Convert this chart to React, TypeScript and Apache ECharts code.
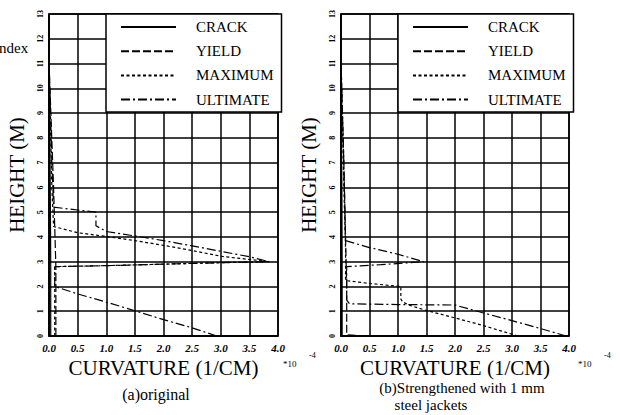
import React, { useEffect, useRef } from "react";
import * as echarts from "echarts";

const xTickLabels = ["0.0", "0.5", "1.0", "1.5", "2.0", "2.5", "3.0", "3.5", "4.0"];
const yTickLabels = ["0", "1", "2", "3", "4", "5", "6", "7", "8", "9", "10", "11", "12", "13"];
const seriesNames = ["CRACK", "YIELD", "MAXIMUM", "ULTIMATE"];

// Panel (a) original: [curvature (1e-4 1/cm), height (m)]
const crackA = [[0.03, 0], [0.03, 2.9], [0.025, 5], [0.015, 8], [0, 11.1]];
const yieldA = [[0.12, 0], [0.12, 2.8], [0.1, 4.4], [0.08, 6], [0.04, 8.5], [0, 11.1]];
const maximumA = [[0.1, 0], [0.1, 2.8], [1.0, 2.84], [2.0, 2.9], [3.0, 2.96], [3.85, 3.0], [3.0, 3.22], [2.5, 3.45], [2.0, 3.66], [1.5, 3.85], [1.0, 4.02], [0.5, 4.17], [0.08, 4.42], [0.05, 6], [0.02, 9], [0, 11.1]];
const ultimateA = [[2.93, 0], [2.5, 0.33], [2.0, 0.66], [1.5, 1.02], [1.0, 1.37], [0.5, 1.7], [0.1, 2.0], [0.1, 2.8], [1.0, 2.84], [2.0, 2.9], [3.0, 2.96], [3.85, 3.0], [3.5, 3.2], [3.0, 3.42], [2.5, 3.64], [2.0, 3.85], [1.5, 4.04], [1.0, 4.22], [0.82, 4.45], [0.82, 5.0], [0.08, 5.2], [0.05, 7], [0.02, 9.5], [0, 11.1]];

// Panel (b) strengthened with 1 mm steel jackets
const crackB = [[0.02, 0], [0.02, 3], [0.015, 6], [0, 11.1]];
const yieldB = [[0.45, 0], [0.1, 0.05], [0.1, 2.0], [0.08, 4], [0.05, 7], [0, 11.1]];
const maximumB = [[3.1, 0], [2.5, 0.42], [2.0, 0.73], [1.5, 1.03], [1.2, 1.24], [1.08, 1.38], [1.05, 1.5], [1.05, 2.0], [0.5, 2.12], [0.08, 2.24], [0.08, 3.5], [0.05, 6], [0, 11.1]];
const ultimateB = [[3.95, 0], [3.5, 0.3], [3.0, 0.62], [2.5, 0.93], [2.0, 1.25], [1.0, 1.27], [0.15, 1.3], [0.1, 1.45], [0.1, 2.8], [0.7, 2.88], [1.45, 3.0], [1.0, 3.3], [0.5, 3.57], [0.08, 3.85], [0.05, 7], [0, 11.1]];

const SERIF = "'Liberation Serif', 'DejaVu Serif', serif";
const dashTypes: any[] = ["solid", [8, 3], [3, 2.5], [9, 3, 2, 3]];

export default function App() {
  const ref = useRef<HTMLDivElement>(null);
  useEffect(() => {
    if (!ref.current) return;
    const chart = echarts.init(ref.current, undefined, { renderer: "svg" });
    const panels = [
      [crackA, yieldA, maximumA, ultimateA],
      [crackB, yieldB, maximumB, ultimateB],
    ];
    const series: any[] = [];
    panels.forEach((p, gi) => {
      p.forEach((data, si) => {
        series.push({
          name: seriesNames[si],
          type: "line",
          xAxisIndex: gi,
          yAxisIndex: gi,
          data,
          symbol: "none",
          lineStyle: { color: "#000", width: 1.2, type: dashTypes[si] },
          itemStyle: { color: "#000" },
          z: 3,
        });
      });
    });
    const gridDefs = [
      { left: 49, top: 14, width: 229, height: 322 },
      { left: 341, top: 14, width: 228, height: 322 },
    ];
    const option: any = {
      animation: false,
      backgroundColor: "#fff",
      grid: gridDefs.map((g) => ({ ...g, show: true, borderColor: "#000", borderWidth: 1.5, backgroundColor: "transparent" })),
      xAxis: [0, 1].map((i) => ({
        type: "value",
        gridIndex: i,
        min: 0,
        max: 4,
        interval: 0.5,
        name: "CURVATURE (1/CM)",
        nameLocation: "middle",
        nameGap: 18,
        nameTextStyle: { fontFamily: SERIF, fontSize: 21, fontWeight: "normal", color: "#000", verticalAlign: "top", lineHeight: 21 },
        axisLine: { lineStyle: { color: "#000", width: 1.5 } },
        axisTick: { show: false },
        axisLabel: {
          formatter: (v: number) => xTickLabels[Math.round(v / 0.5)] ?? "",
          fontSize: 11,
          fontStyle: "italic",
          fontWeight: "bold",
          fontFamily: SERIF,
          color: "#000",
          margin: 6,
        },
        splitLine: { show: true, lineStyle: { color: "#000", width: 1.5 } },
      })),
      yAxis: [0, 1].map((i) => ({
        type: "value",
        gridIndex: i,
        min: 0,
        max: 13,
        interval: 1,
        name: "HEIGHT (M)",
        nameLocation: "middle",
        nameGap: 22,
        nameRotate: 90,
        nameTextStyle: { fontFamily: SERIF, fontSize: 21, fontWeight: "normal", color: "#000" },
        axisLine: { lineStyle: { color: "#000", width: 1.5 } },
        axisTick: { show: false },
        axisLabel: {
          formatter: (v: number) => yTickLabels[Math.round(v)] ?? "",
          rotate: 90,
          fontSize: 8,
          fontWeight: "bold",
          fontFamily: SERIF,
          color: "#000",
          margin: 5,
        },
        splitLine: { show: true, lineStyle: { color: "#000", width: 1.5 } },
      })),
      legend: [106, 398].map((left) => ({
        data: seriesNames,
        orient: "vertical",
        left,
        top: 14,
        itemWidth: 55,
        itemHeight: 14,
        itemGap: 9.2,
        padding: [5.5, 8, 5, 14],
        backgroundColor: "#fff",
        borderColor: "#000",
        borderWidth: 1.5,
        borderRadius: 0,
        selectedMode: false,
        itemStyle: { opacity: 0 },
        textStyle: { fontFamily: SERIF, fontSize: 15, color: "#000", padding: [0, 0, 0, 15] },
        z: 5,
      })),
      graphic: [
        { type: "text", x: -1, y: 48, style: { text: "ndex", fontFamily: SERIF, fontSize: 15, fill: "#000", textVerticalAlign: "middle" } },
        { type: "text", x: 283, y: 364, style: { text: "*10", fontFamily: SERIF, fontSize: 9, fill: "#000", textVerticalAlign: "middle" } },
        { type: "text", x: 309, y: 355, style: { text: "-4", fontFamily: SERIF, fontSize: 8, fill: "#000", textVerticalAlign: "middle" } },
        { type: "text", x: 578, y: 364, style: { text: "*10", fontFamily: SERIF, fontSize: 9, fill: "#000", textVerticalAlign: "middle" } },
        { type: "text", x: 604, y: 355, style: { text: "-4", fontFamily: SERIF, fontSize: 8, fill: "#000", textVerticalAlign: "middle" } },
        { type: "text", x: 156, y: 394, style: { text: "(a)original", fontFamily: SERIF, fontSize: 16, fill: "#000", textAlign: "center", textVerticalAlign: "middle" } },
        { type: "text", x: 462, y: 388, style: { text: "(b)Strengthened with 1 mm", fontFamily: SERIF, fontSize: 15, fill: "#000", textAlign: "center", textVerticalAlign: "middle" } },
        { type: "text", x: 431, y: 405, style: { text: "steel jackets", fontFamily: SERIF, fontSize: 15, fill: "#000", textAlign: "center", textVerticalAlign: "middle" } },
      ],
      series,
    };
    chart.setOption(option);
    return () => chart.dispose();
  }, []);
  return <div ref={ref} style={{ position: "fixed", left: 0, top: 0, width: 620, height: 415 }} />;
}
